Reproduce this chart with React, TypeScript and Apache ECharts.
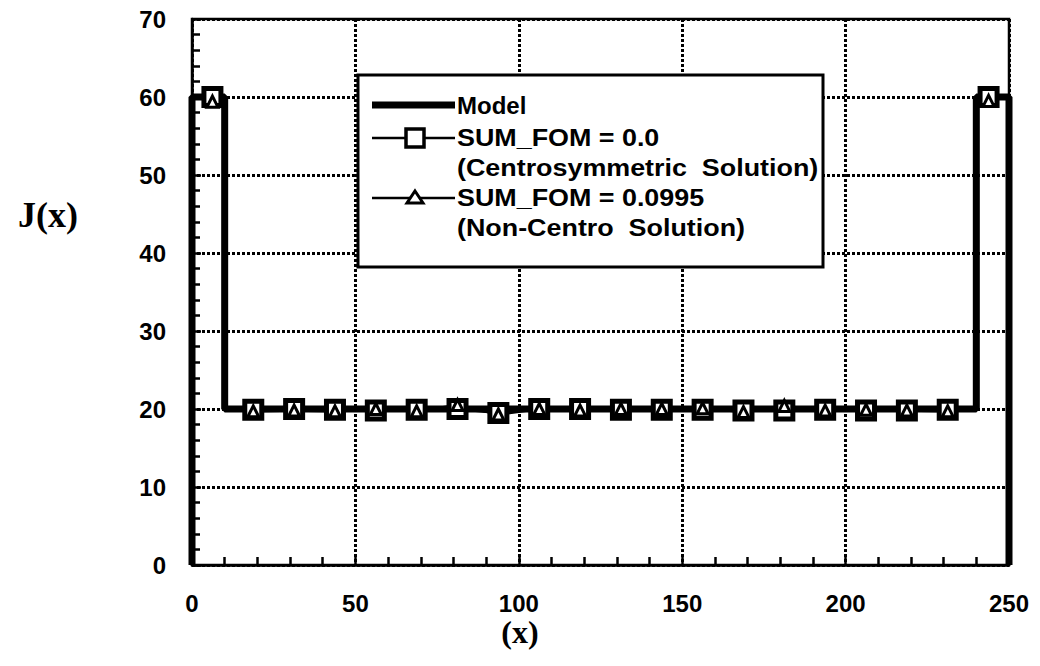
import React, { useEffect, useRef } from "react";
import * as echarts from "echarts";

// Sample positions of the solutions
const xPositions = [6.25, 18.75, 31.25, 43.75, 56.25, 68.75, 81.25, 93.75, 106.25, 118.75, 131.25, 143.75, 156.25, 168.75, 181.25, 193.75, 206.25, 218.75, 231.25, 243.75];
// SUM_FOM = 0.0 (Centrosymmetric Solution)
const centroValues = [60, 19.9, 20, 19.9, 19.8, 19.9, 20, 19.5, 20, 20, 19.9, 19.9, 19.9, 19.8, 19.8, 19.9, 19.8, 19.8, 19.9, 60];
// SUM_FOM = 0.0995 (Non-Centro Solution)
const nonCentroValues = [59.4, 19.7, 19.8, 19.7, 20, 19.7, 20.5, 19.3, 20, 19.8, 20, 20, 20.1, 19.6, 20.4, 19.8, 19.9, 19.8, 19.7, 59.5];
// Model step profile
const modelX = [0, 0, 10, 10, 240, 240, 250, 250];
const modelY = [0, 60, 60, 20, 20, 60, 60, 0];

const xTicks = [0, 50, 100, 150, 200, 250];
const yTicks = [0, 10, 20, 30, 40, 50, 60, 70];

const legendLines = ["Model", "SUM_FOM = 0.0", "(Centrosymmetric  Solution)", "SUM_FOM = 0.0995", "(Non-Centro  Solution)"];

export default function App() {
  const ref = useRef<HTMLDivElement>(null);
  useEffect(() => {
    if (!ref.current) return;
    const chart = echarts.init(ref.current, null, { renderer: "svg" });
    const font = "Liberation Sans";
    const lx = 358, ly = 75, lw = 465, lh = 192;
    const rowY = [105, 138, 168, 198, 228];
    const pairs = (vals: number[]) => xPositions.map((x, i) => [x, vals[i]]);
    const option: any = {
      animation: false,
      backgroundColor: "#fff",
      grid: { left: 192, right: 31, top: 19, bottom: 101, show: true, borderColor: "#000", borderWidth: 2.5, backgroundColor: "transparent" },
      xAxis: {
        type: "value",
        min: xTicks[0],
        max: xTicks[xTicks.length - 1],
        interval: 50,
        axisLine: { show: true, onZero: false, lineStyle: { color: "#000", width: 2.5 } },
        axisTick: { show: true, inside: true, length: 9, lineStyle: { color: "#000", width: 2.5 } },
        minorTick: { show: true, splitNumber: 5, length: 8, lineStyle: { color: "#000", width: 2.5 } },
        axisLabel: { color: "#000", fontFamily: font, fontWeight: "bold", fontSize: 24, margin: 26 },
        splitLine: { show: true, lineStyle: { color: "#000", width: 3, type: [3, 2] } },
      },
      yAxis: {
        type: "value",
        min: yTicks[0],
        max: yTicks[yTicks.length - 1],
        interval: 10,
        axisLine: { show: true, onZero: false, lineStyle: { color: "#000", width: 2.5 } },
        axisTick: { show: true, inside: true, length: 9, lineStyle: { color: "#000", width: 2.5 } },
        minorTick: { show: true, splitNumber: 5, length: 8, lineStyle: { color: "#000", width: 2.5 } },
        axisLabel: { color: "#000", fontFamily: font, fontWeight: "bold", fontSize: 24, margin: 26 },
        splitLine: { show: true, lineStyle: { color: "#000", width: 3, type: [3, 2] } },
      },
      series: [
        {
          name: "Model",
          type: "line",
          clip: false,
          data: modelX.map((x, i) => [x, modelY[i]]),
          showSymbol: false,
          symbol: "none",
          lineStyle: { color: "#000", width: 7 },
          z: 2,
        },
        {
          name: "SUM_FOM = 0.0 line",
          type: "line",
          data: pairs(centroValues).slice(1, -1),
          symbol: "none",
          lineStyle: { color: "#000", width: 2.5 },
          z: 3,
        },
        {
          name: "SUM_FOM = 0.0995 line",
          type: "line",
          data: pairs(nonCentroValues).slice(1, -1),
          symbol: "none",
          lineStyle: { color: "#000", width: 2.5 },
          z: 3,
        },
        {
          name: "SUM_FOM = 0.0",
          type: "scatter",
          clip: false,
          data: pairs(centroValues),
          symbol: "rect",
          symbolSize: 17,
          itemStyle: { color: "#fff", borderColor: "#000", borderWidth: 5, opacity: 1 },
          z: 4,
        },
        {
          name: "SUM_FOM = 0.0995",
          type: "scatter",
          clip: false,
          data: pairs(nonCentroValues),
          symbol: "triangle",
          symbolSize: 11,
          itemStyle: { color: "#fff", borderColor: "#000", borderWidth: 3, opacity: 1 },
          z: 5,
        },
      ],
      graphic: [
        { type: "rect", shape: { x: lx, y: ly, width: lw, height: lh }, style: { fill: "#fff", stroke: "#000", lineWidth: 3 }, z: 10 },
        { type: "line", shape: { x1: 372, y1: rowY[0], x2: 455, y2: rowY[0] }, style: { stroke: "#000", lineWidth: 7 }, z: 11 },
        { type: "line", shape: { x1: 372, y1: rowY[1], x2: 455, y2: rowY[1] }, style: { stroke: "#000", lineWidth: 2.5 }, z: 11 },
        { type: "rect", shape: { x: 406, y: rowY[1] - 9, width: 18, height: 18 }, style: { fill: "#fff", stroke: "#000", lineWidth: 3.5 }, z: 12 },
        { type: "line", shape: { x1: 372, y1: rowY[3], x2: 455, y2: rowY[3] }, style: { stroke: "#000", lineWidth: 2.5 }, z: 11 },
        { type: "polygon", shape: { points: [[415, rowY[3] - 7], [423, rowY[3] + 5], [407, rowY[3] + 5]] }, style: { fill: "#fff", stroke: "#000", lineWidth: 3 }, z: 12 },
        ...legendLines.map((t, i) => ({
          type: "text",
          x: 457,
          y: rowY[i],
          scaleX: i === 0 ? 1 : 1.12,
          style: { text: t, fill: "#000", font: `bold 24px "${font}"`, textVerticalAlign: "middle", textAlign: "left" },
          z: 12,
        })),
        { type: "text", x: 48, y: 215, style: { text: "J(x)", fill: "#000", font: 'bold 36px "Liberation Serif"', textAlign: "center", textVerticalAlign: "middle" } },
        { type: "text", x: 520, y: 632, style: { text: "(x)", fill: "#000", font: 'bold 32px "Liberation Serif"', textAlign: "center", textVerticalAlign: "middle" } },
      ],
    };
    chart.setOption(option);
    return () => chart.dispose();
  }, []);
  return <div ref={ref} style={{ width: 1040, height: 666, position: "absolute", left: 0, top: 0 }} />;
}
